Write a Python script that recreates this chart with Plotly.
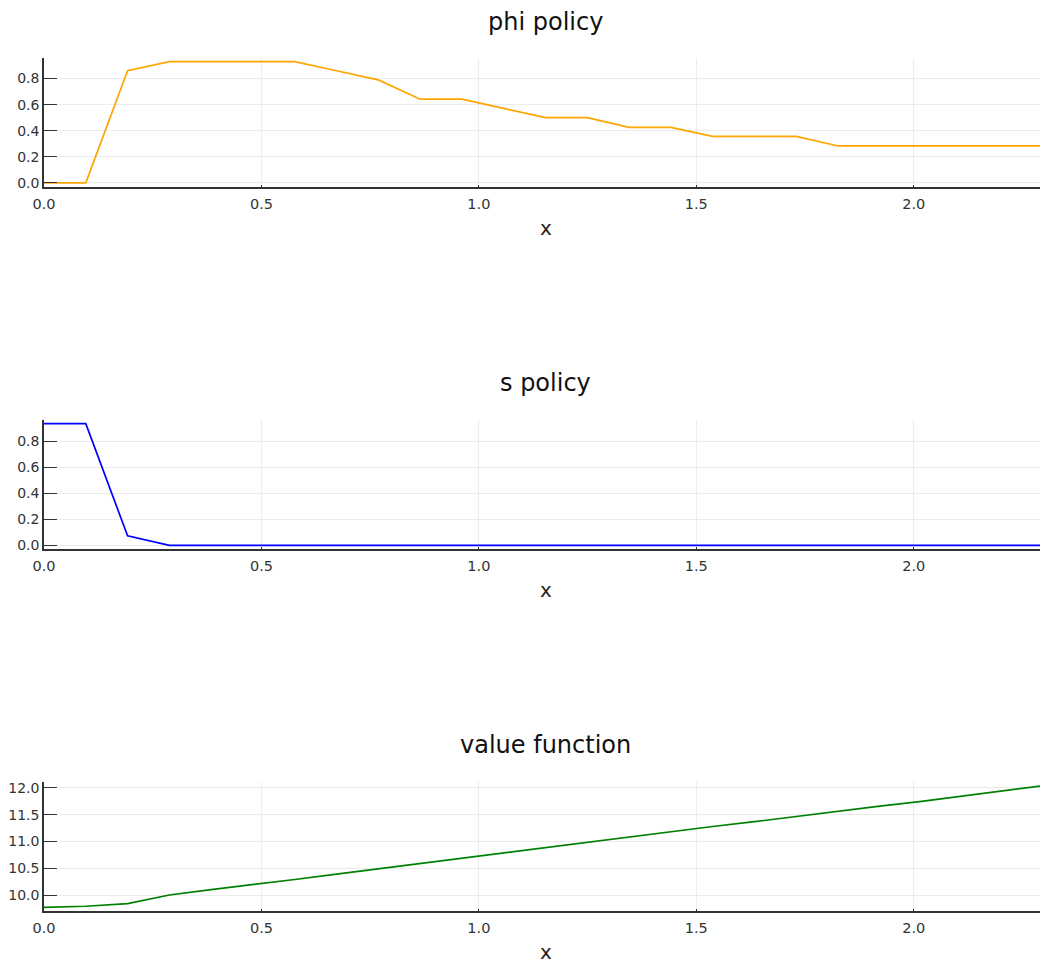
import plotly.graph_objects as go

# grid of x values (25 points)
x_grid = [0.0, 0.0961, 0.1922, 0.2883, 0.3844, 0.4805, 0.5766, 0.6727, 0.7688, 0.8649,
          0.9610, 1.0571, 1.1532, 1.2493, 1.3454, 1.4415, 1.5376, 1.6337, 1.7298, 1.8259,
          1.9220, 2.0181, 2.1142, 2.2103, 2.3064]

phi_policy = [0.0, 0.0, 0.86, 0.93, 0.93, 0.93, 0.93, 0.86, 0.79, 0.642,
              0.642, 0.571, 0.50, 0.50, 0.426, 0.426, 0.357, 0.357, 0.357, 0.283,
              0.283, 0.283, 0.283, 0.283, 0.283]

s_policy = [0.933, 0.933, 0.073, 0.0, 0.0, 0.0, 0.0, 0.0, 0.0, 0.0,
            0.0, 0.0, 0.0, 0.0, 0.0, 0.0, 0.0, 0.0, 0.0, 0.0,
            0.0, 0.0, 0.0, 0.0, 0.0]

value_function = [9.77, 9.79, 9.84, 10.00, 10.10, 10.19, 10.29, 10.39, 10.49, 10.59,
                  10.69, 10.79, 10.89, 10.99, 11.08, 11.18, 11.28, 11.37, 11.47, 11.56,
                  11.66, 11.75, 11.85, 11.95, 12.05]

titles = ["phi policy", "s policy", "value function"]
x_ticks = [0.0, 0.5, 1.0, 1.5, 2.0]
policy_ticks = [0.0, 0.2, 0.4, 0.6, 0.8]
value_ticks = [10.0, 10.5, 11.0, 11.5, 12.0]

FONT = "DejaVu Sans"
OFF = 8  # page body margin
W, H = 1048 - OFF, 963 - OFF
ML, MR, MT, MB = 44 - OFF, 1, 58 - OFF, 52
PH = H - MT - MB

def py(p):
    # p: pixel row in page coordinates
    return (H - MB - (p - OFF)) / PH

fig = go.Figure()

series = [phi_policy, s_policy, value_function]
colors = ["#FFA500", "#0000FF", "#008000"]
domains = [[py(186.5), 1.0], [py(549), py(420)], [0.0, py(781.6)]]
title_y = [22, 383, 745]
xlabel_y = [228, 590, 952]

def padded(vals):
    lo, hi = min(vals), max(vals)
    d = (hi - lo) * 0.03
    return [lo - d, hi + d]

for i, (ys, c) in enumerate(zip(series, colors)):
    n = "" if i == 0 else str(i + 1)
    fig.add_trace(go.Scatter(x=x_grid, y=ys, mode="lines",
                             line=dict(color=c, width=1.7),
                             xaxis="x" + n, yaxis="y" + n, showlegend=False))
    yt = value_ticks if i == 2 else policy_ticks
    fig.layout["xaxis" + n] = dict(
        domain=[0, 1], anchor="y" + n, range=[0, x_grid[-1]], automargin=False,
        tickvals=x_ticks, ticktext=[f"{v:.1f}" for v in x_ticks],
        showgrid=True, gridcolor="#ececec", gridwidth=1, zeroline=False,
        showline=True, linecolor="#333333", linewidth=1.5,
        ticks="inside", ticklen=2, tickcolor="#333333",
        ticklabelstandoff=3,
        tickfont=dict(family=FONT, size=14.5, color="#333333"),
    )
    fig.layout["yaxis" + n] = dict(
        domain=domains[i], anchor="x" + n, range=padded(ys), automargin=False,
        tickvals=yt, ticktext=[f"{v:.1f}" for v in yt],
        showgrid=True, gridcolor="#ececec", gridwidth=1, zeroline=False,
        showline=True, linecolor="#333333", linewidth=1.5,
        ticks="inside", ticklen=13, tickcolor="#333333",
        tickfont=dict(family=FONT, size=14, color="#333333"),
    )
    fig.add_annotation(text=titles[i], x=0.5, y=py(title_y[i]), xref="paper", yref="paper",
                       xanchor="center", yanchor="middle", showarrow=False,
                       font=dict(family=FONT, size=24, color="#111111"))
    fig.add_annotation(text="x", x=0.5, y=py(xlabel_y[i]), xref="paper", yref="paper",
                       xanchor="center", yanchor="middle", showarrow=False,
                       font=dict(family=FONT, size=20, color="#222222"))

fig.update_layout(width=W, height=H, margin=dict(l=ML, r=MR, t=MT, b=MB),
                  plot_bgcolor="white", paper_bgcolor="white")

fig.write_html("out.html")
